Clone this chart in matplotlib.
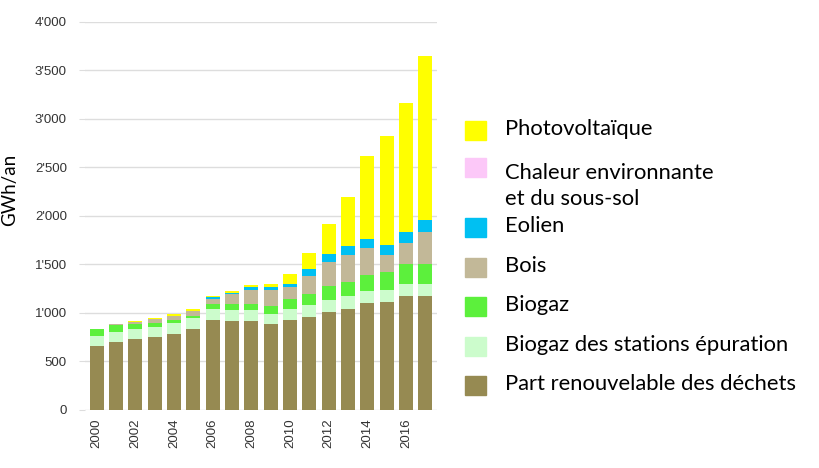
import matplotlib.pyplot as plt
import numpy as np
from matplotlib.patches import Rectangle

years = list(range(2000, 2018))

# GWh/an per source
dechets = [661, 699, 727, 751, 788, 830, 932, 912, 915, 881, 922, 960, 1008, 1042, 1100, 1110, 1179, 1179]
step = [103, 106, 106, 106, 110, 113, 113, 116, 113, 113, 123, 120, 130, 134, 131, 131, 124, 124]
biogaz = [69, 66, 55, 41, 27, 30, 45, 59, 69, 75, 96, 110, 137, 147, 160, 178, 198, 205]
bois = [5, 10, 20, 38, 48, 45, 55, 103, 144, 172, 127, 195, 247, 278, 278, 175, 219, 325]
eolien = [0, 0, 0, 0, 0, 0, 14, 16, 21, 21, 35, 68, 85, 85, 97, 106, 113, 128]
chaleur = [0] * 18
pv = [0, 10, 7, 13, 21, 24, 13, 21, 27, 41, 99, 168, 306, 504, 846, 1125, 1327, 1689]

series = [
    ("Part renouvelable des déchets", dechets, "#968a52"),
    ("Biogaz des stations épuration", step, "#ccfccc"),
    ("Biogaz", biogaz, "#5cf03c"),
    ("Bois", bois, "#c2b898"),
    ("Eolien", eolien, "#00c0f2"),
    ("Chaleur environnante\net du sous-sol", chaleur, "#fcc8f8"),
    ("Photovoltaïque", pv, "#ffff00"),
]

fig = plt.figure(figsize=(8.19, 4.68), dpi=100)
ax = fig.add_axes([85 / 819, 1 - 410 / 468, 352 / 819, 388.3 / 468])

x = np.arange(len(years))
bottom = np.zeros(len(years))
for name, vals, col in series:
    ax.bar(x, vals, 0.72, bottom=bottom, color=col, zorder=3)
    bottom += np.array(vals)

ax.set_xlim(-0.6, 17.6)
ax.set_ylim(0, 4000)
yt = np.arange(0, 4001, 500)
ax.set_yticks(yt)
ax.set_yticklabels([f"{v:,}".replace(",", "'") for v in yt],
                   fontfamily="Liberation Sans", fontsize=9.5, color="#333333")
ax.set_xticks(x[::2])
ax.set_xticklabels([str(y) for y in years[::2]], rotation=90,
                   fontfamily="Liberation Sans", fontsize=9.5, color="#333333")
ax.tick_params(axis="x", length=0, pad=6)
ax.tick_params(axis="y", length=4, color="#dddddd", pad=9)
for s in ax.spines.values():
    s.set_visible(False)
ax.grid(axis="y", color="#dddddd", linewidth=1)
ax.set_axisbelow(True)
fig.text(10 / 819, 1 - 190 / 468, "GWh/an", rotation=90, ha="center", va="center",
         fontfamily="Lato", fontsize=13.5)

# legend drawn by hand so the two-line entry keeps its square on the first line
leg_rows = [(s[0], s[2]) for s in series[::-1]]
sq_top = [121, 158, 218, 258, 297, 337, 376]
txt_top = [119, 163, 216, 256, 295, 335, 374]
for (name, col), top, ttop in zip(leg_rows, sq_top, txt_top):
    fig.patches.append(Rectangle((465 / 819, 1 - (top + 19) / 468), 21 / 819, 19 / 468,
                                 transform=fig.transFigure, color=col))
    fig.text(505 / 819, 1 - ttop / 468, name, ha="left", va="top",
             fontfamily="Lato", fontsize=15.8, linespacing=1.38)

fig.savefig("out.png", dpi=100)
